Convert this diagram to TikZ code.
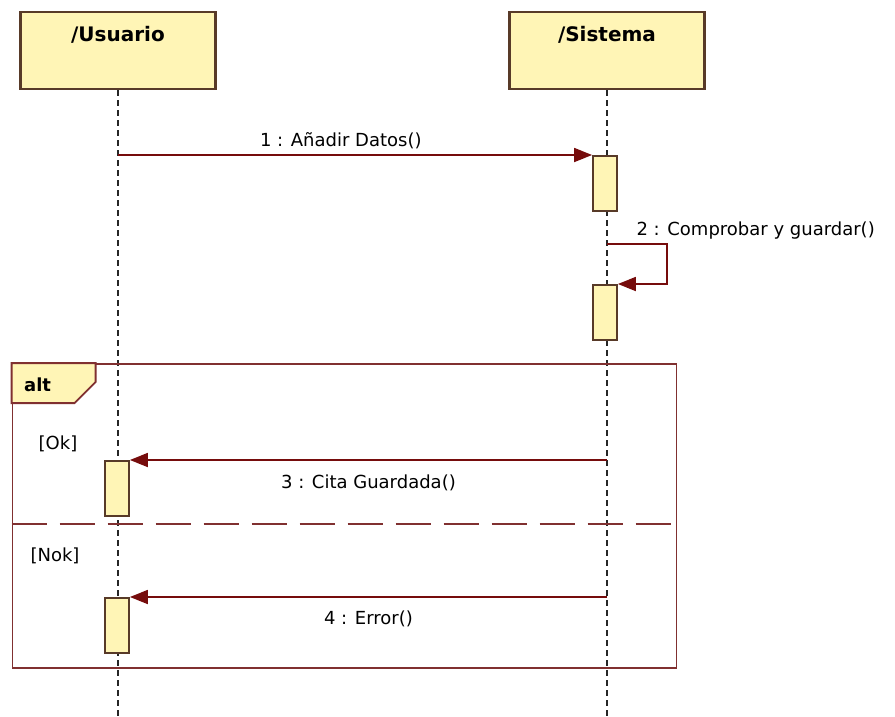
\documentclass[tikz,border=0pt]{standalone}
\usepackage{fontspec}
\setmainfont{DejaVu Sans}
\usetikzlibrary{arrows.meta,positioning,calc}
\definecolor{boxfill}{RGB}{255,245,182}
\definecolor{boxline}{RGB}{88,58,40}
\definecolor{msgred}{RGB}{118,12,12}
\definecolor{framered}{RGB}{128,48,48}
\tikzset{
  >={Triangle[length=18pt,width=14pt]},
  every node/.style={font=\fontsize{18}{21}\selectfont},
}

\begin{document}
\begin{tikzpicture}[
x=1pt,y=-1pt,
lifebox/.style={draw=boxline,fill=boxfill,line width=2.2pt,minimum width=195pt,minimum height=77pt,inner sep=0pt},
actbar/.style={draw=boxline,fill=boxfill,line width=1.8pt,minimum width=24pt,minimum height=55pt,inner sep=0pt},
lifeline/.style={line width=2pt,dash pattern=on 6pt off 4pt,black!85},
msgline/.style={->,draw=msgred,line width=1.8pt},
altframe/.style={draw=framered,line width=1.8pt},
titlefont/.style={font=\bfseries\fontsize{20}{22}\selectfont}
]
\useasboundingbox (0,0) rectangle (895,716);

% lifelines
\node[lifebox,label={[titlefont,yshift=-24pt,anchor=center]north:/Usuario}] (usr) at (118,50.5) {};
\node[lifebox,label={[titlefont,yshift=-24pt,anchor=center]north:/Sistema}] (sys) at (607,50.5) {};
\coordinate (usrend) at (118,716);
\coordinate (sysend) at (607,716);
\draw[lifeline] (usr.south) -- (usrend);
\draw[lifeline] (sys.south) -- (sysend);

% combined fragment
\node[altframe,minimum width=664pt,minimum height=304pt,inner sep=0pt] (alt) at (344.5,516) {};
\draw[altframe,fill=boxfill] (alt.north west) -- ++(84,0) -- ++(0,19) -- ++(-21,21) -- ++(-63,0) -- cycle;
\node[font=\bfseries\fontsize{18}{21}\selectfont,anchor=west] (altlbl) at ([xshift=9pt,yshift=-22pt]alt.north west) {alt};
\coordinate (sepL) at (alt.west |- 0,524);
\coordinate (sepR) at (alt.east |- 0,524);
\draw[draw=framered,line width=1.8pt,dash pattern=on 35pt off 13pt] (sepL) -- (sepR);
\node (okg) at (58,444) {[Ok]};
\node (nokg) at (55,556) {[Nok]};

% activations
\node[actbar,anchor=north] (a1) at (605,155) {};
\node[actbar,anchor=north] (a2) at (605,284) {};
\node[actbar,anchor=north] (a3) at (117,460) {};
\node[actbar,anchor=north] (a4) at (117,597) {};

% messages
\draw[msgline] (usr |- a1.north west) -- node[above=2pt,pos=.47,text=black]{1 : Añadir Datos()} (a1.north west);
\coordinate (s2) at (607,244);
\draw[msgline] (s2) -- ++(60,0) |- (a2.north east);
\node[anchor=south west] (m2) at ([xshift=26pt,yshift=1pt]s2) {2 : Comprobar y guardar()};
\draw[msgline] (sys |- a3.north east) -- node[below=11pt,text=black]{3 : Cita Guardada()} (a3.north east);
\draw[msgline] (sys |- a4.north east) -- node[below=10pt,text=black]{4 : Error()} (a4.north east);
\end{tikzpicture}
\end{document}
